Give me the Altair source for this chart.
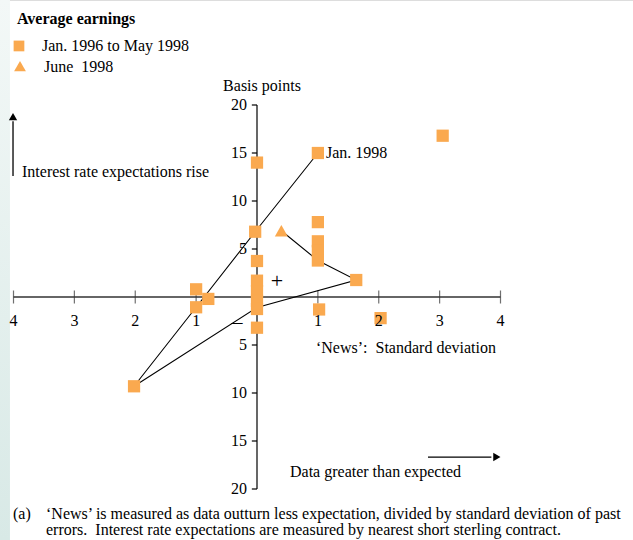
import altair as alt
import pandas as pd

# ---- data ----
sq_x = [0, 1, 3.05, -0.03, 0, 0, 0, 0, 0, 0, 1, 1, 1, 1, 1.63, -1.0, -1.0, -0.8, 1.02, 2.03, -2.02]
sq_y = [14, 15, 16.8, 6.8, 3.75, 1.7, 0.6, -0.4, -1.25, -3.2, 7.8, 5.8, 4.8, 3.8, 1.77, 0.8, -1.07, -0.2, -1.3, -2.2, -9.3]
tri_x = [0.4]
tri_y = [6.9]
path_x = [1, -0.03, -1.0, -2.02, 0, 1.63, 1, 0.4]
path_y = [15, 6.8, -1.07, -9.3, -1.1, 1.77, 3.8, 6.9]
x_ticks = [-4, -3, -2, -1, 1, 2, 3, 4]
y_ticks = [-20, -15, -10, -5, 5, 10, 15, 20]

ORANGE = "#FAA94F"
FONT = "Liberation Serif"
XD = [-4.2218, 6.1766]
YD = [-25.3125, 30.9375]
xs = alt.Scale(domain=XD, nice=False, zero=False)
ys = alt.Scale(domain=YD, nice=False, zero=False)


def X(f="x"):
    return alt.X(f"{f}:Q", scale=xs, axis=None)


def Y(f="y"):
    return alt.Y(f"{f}:Q", scale=ys, axis=None)


strip = alt.Chart(pd.DataFrame({"x": [XD[0]], "x2": [-4.058], "y": [YD[0]], "y2": [YD[1]]})).mark_rect(
    color=alt.Gradient(gradient="linear",
                       stops=[alt.GradientStop(color="#F3F8F7", offset=0),
                              alt.GradientStop(color="#D8E9E6", offset=1)],
                       x1=0, x2=0, y1=0, y2=1)
).encode(x=X(), x2="x2:Q", y=Y(), y2="y2:Q")

# axis lines, ticks and tick labels (axes cross at the origin)
xline = alt.Chart(pd.DataFrame({"x": [-4], "x2": [4], "y": [0]})).mark_rule(
    color="#333", strokeWidth=1.5).encode(x=X(), x2="x2:Q", y=Y())
yline = alt.Chart(pd.DataFrame({"x": [0], "y": [-20], "y2": [20]})).mark_rule(
    color="black", strokeWidth=1.2).encode(x=X(), y=Y(), y2="y2:Q")
xtick = alt.Chart(pd.DataFrame({"x": x_ticks, "y": [0] * len(x_ticks)})).mark_tick(
    orient="vertical", size=13, thickness=1.2, color="#333").encode(x=X(), y=Y())
ytick = alt.Chart(pd.DataFrame({"x": [-0.085] * len(y_ticks), "x2": [0] * len(y_ticks), "y": y_ticks})).mark_rule(
    color="black", strokeWidth=1.2).encode(x=X(), x2="x2:Q", y=Y())
xlab = alt.Chart(pd.DataFrame({"x": x_ticks, "y": [0] * len(x_ticks),
                               "t": [str(abs(v)) for v in x_ticks]})).mark_text(
    align="center", baseline="middle", dy=24, font=FONT, fontSize=16, color="black").encode(
    x=X(), y=Y(), text="t:N")
ylab = alt.Chart(pd.DataFrame({"x": [0] * len(y_ticks), "y": y_ticks,
                               "t": [str(abs(v)) for v in y_ticks]})).mark_text(
    align="right", baseline="middle", dx=-10, font=FONT, fontSize=16, color="black").encode(
    x=X(), y=Y(), text="t:N")

path = alt.Chart(pd.DataFrame({"x": path_x, "y": path_y, "o": list(range(len(path_x)))})).mark_line(
    color="black", strokeWidth=1.1).encode(x=X(), y=Y(), order="o:Q")

squares = alt.Chart(pd.DataFrame({"x": sq_x, "y": sq_y})).mark_point(
    shape="square", filled=True, size=150, color=ORANGE, opacity=1).encode(x=X(), y=Y())

triangle = alt.Chart(pd.DataFrame({"x": tri_x, "y": tri_y})).mark_point(
    shape="triangle-up", filled=True, size=170, color=ORANGE, opacity=1).encode(x=X(), y=Y())

# legend symbols
leg_sq = alt.Chart(pd.DataFrame({"x": [-3.91], "y": [26.15]})).mark_point(
    shape="square", filled=True, size=115, color=ORANGE, opacity=1).encode(x=X(), y=Y())
leg_tri = alt.Chart(pd.DataFrame({"x": [-3.893], "y": [24.06]})).mark_point(
    shape="triangle-up", filled=True, size=140, color=ORANGE, opacity=1).encode(x=X(), y=Y())

# arrows
up_arrow = alt.Chart(pd.DataFrame({"x": [-4.008], "y": [12.6], "y2": [18.3]})).mark_rule(
    color="black", strokeWidth=1.3).encode(x=X(), y=Y(), y2="y2:Q")
up_head = alt.Chart(pd.DataFrame({"x": [-4.008], "y": [18.8]})).mark_point(
    shape="triangle-up", filled=True, size=70, color="black", opacity=1).encode(x=X(), y=Y())
rt_arrow = alt.Chart(pd.DataFrame({"x": [2.809], "x2": [3.85], "y": [-16.67]})).mark_rule(
    color="black", strokeWidth=1.3).encode(x=X(), x2="x2:Q", y=Y())
rt_head = alt.Chart(pd.DataFrame({"x": [3.94], "y": [-16.67]})).mark_point(
    shape="triangle-right", filled=True, size=70, color="black", opacity=1).encode(x=X(), y=Y())


def txt(rows, align="left", size=16, weight="normal"):
    df = pd.DataFrame(rows, columns=["x", "y", "t"])
    return alt.Chart(df).mark_text(align=align, baseline="middle", font=FONT, fontSize=size,
                                   fontWeight=weight, color="black").encode(x=X(), y=Y(), text="t:N")


title_t = txt([[-3.943, 28.96, "Average earnings"]], size=16, weight="bold")
legend_t = txt([[-3.532, 26.15, "Jan. 1996 to May 1998"],
                [-3.499, 23.96, "June\u00a0\u00a01998"]], size=16)
center_t = txt([[0.082, 21.98, "Basis points"]], align="center", size=16)
left_t = txt([[-3.86, 13.02, "Interest rate expectations rise"],
              [1.133, 15.0, "Jan. 1998"],
              [0.969, -5.31, "\u2018News\u2019:\u00a0\u00a0Standard deviation"],
              [0.542, -18.23, "Data greater than expected"]], size=16)
sign_t = txt([[0.329, 1.667, "+"], [-0.329, -2.6, "\u2013"]], align="center", size=22)
foot_t = txt([[-4.008, -22.6, "(a)"],
              [-3.466, -22.6, "\u2018News\u2019 is measured as data outturn less expectation, divided by standard deviation of past"],
              [-3.466, -24.27, "errors.\u00a0\u00a0Interest rate expectations are measured by nearest short sterling contract."]],
             size=16)

chart = alt.layer(
    strip, xline, yline, xtick, ytick, ylab, path, squares, triangle, xlab, leg_sq, leg_tri,
    up_arrow, up_head, rt_arrow, rt_head,
    title_t, legend_t, center_t, left_t, sign_t, foot_t
).properties(
    width=633, height=540, padding=0, autosize=alt.AutoSizeParams(type="none")
).configure_view(stroke=None).configure(background="white")

chart.save("out.html", embed_options={"renderer": "svg", "actions": False})
